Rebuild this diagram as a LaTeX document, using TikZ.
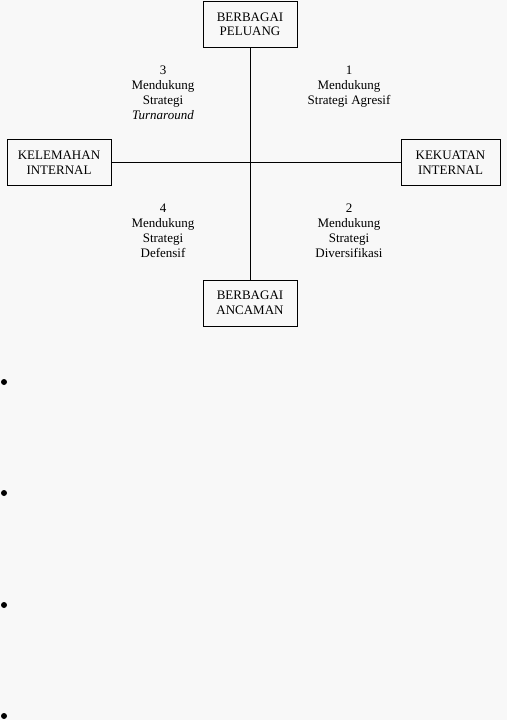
\documentclass[tikz,border=0pt]{standalone}
\usepackage{fontspec}
\setmainfont{Liberation Serif}
\usetikzlibrary{positioning}
\definecolor{Paper}{HTML}{F8F8F8}

\begin{document}
\begin{tikzpicture}[x=1pt, y=-1pt,
  posbox/.style={draw, line width=0.8pt, minimum width=94pt, minimum height=46pt,
                 align=center, inner sep=2pt, font=\fontsize{13}{14.5}\selectfont},
  qtext/.style={align=center, anchor=north, inner sep=0pt,
                font=\fontsize{13}{15}\selectfont},
  dot/.style={circle, fill=black, inner sep=0pt, minimum size=6pt}
]
  \fill[Paper] (0,0) rectangle (507,720);
  \useasboundingbox (0,0) rectangle (507,720);

  % the four sides
  \node[posbox] (peluang) at (250,24.5) {BERBAGAI\\PELUANG};
  \node[posbox] (ancaman) at (250,303) {BERBAGAI\\ANCAMAN};
  \node[posbox, minimum width=104pt] (lemah) at (59,162.5) {KELEMAHAN\\INTERNAL};
  \node[posbox, minimum width=99pt]  (kuat)  at (450.5,162.5) {KEKUATAN\\INTERNAL};

  \draw[line width=0.8pt] (peluang.south) -- (ancaman.north);
  \draw[line width=0.8pt] (lemah.east) -- (kuat.west);

  % quadrants
  \node[qtext] (q3) at (163,66) {3\\Mendukung\\Strategi\\\textit{Turnaround}};
  \node[qtext] (q1) at (349,66) {1\\Mendukung\\Strategi Agresif};
  \node[qtext] (q4) at (163,204) {4\\Mendukung\\Strategi\\Defensif};
  \node[qtext] (q2) at (349,204) {2\\Mendukung\\Strategi\\Diversifikasi};

  % bullets
  \node[dot] (b1) at (4,382) {};
  \node[dot] (b2) at (4,493) {};
  \node[dot] (b3) at (4,605) {};
  \node[dot] (b4) at (4,716) {};
\end{tikzpicture}
\end{document}
